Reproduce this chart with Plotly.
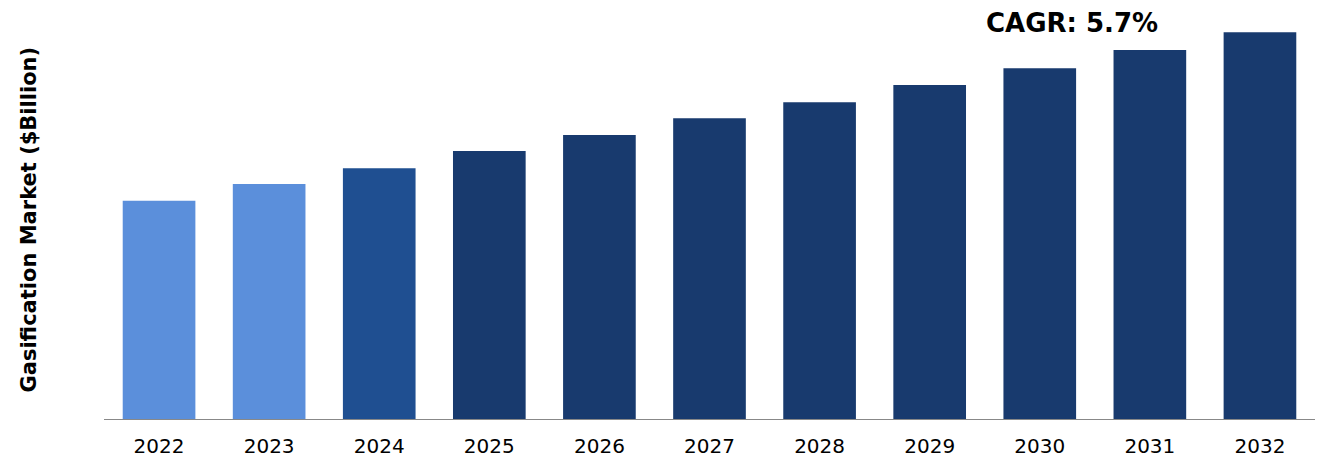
import plotly.graph_objects as go

# 市場規模 (估計值, $Billion)
years = ["2022", "2023", "2024", "2025", "2026", "2027", "2028", "2029", "2030", "2031", "2032"]
market_values = [480, 517, 552, 590, 625, 662, 697, 735, 772, 812, 851]
bar_colors = ["#5B8FDB", "#5B8FDB", "#1F4F91"] + ["#183A6E"] * 8

cagr_label = "CAGR: 5.7%"
y_title = "Gasification Market ($Billion)"

fig = go.Figure(go.Bar(
    x=years,
    y=market_values,
    marker=dict(color=bar_colors, line=dict(width=0)),
    hoverinfo="x+y",
))

# 頁面 body 有 8px 邊距, 邊界因此往左上收
fig.update_layout(
    width=1339,
    height=466,
    margin=dict(l=96, r=32, t=12, b=55),
    plot_bgcolor="white",
    paper_bgcolor="white",
    bargap=0.34,
    showlegend=False,
    font=dict(family="DejaVu Sans", color="#000000"),
    xaxis=dict(
        showline=True,
        linecolor="#888888",
        linewidth=1,
        ticks="",
        ticklabelstandoff=9,
        tickfont=dict(size=20, color="#000000"),
        showgrid=False,
    ),
    yaxis=dict(
        range=[0, 878],
        showticklabels=False,
        showgrid=False,
        zeroline=False,
        showline=False,
    ),
    annotations=[
        dict(
            text="<b>" + cagr_label + "</b>",
            xref="paper", yref="paper",
            x=(1064 - 96) / 1211, y=1.0,
            yshift=-3,
            xanchor="center", yanchor="middle",
            showarrow=False,
            font=dict(size=26, color="#000000", family="DejaVu Sans"),
        ),
        dict(
            text="<b>" + y_title + "</b>",
            xref="paper", yref="paper",
            x=-(96 - 20) / 1211, y=0.5,
            xanchor="center", yanchor="middle",
            textangle=-90,
            showarrow=False,
            font=dict(size=21, color="#000000", family="DejaVu Sans"),
        ),
    ],
)

fig.write_html("out.html")
